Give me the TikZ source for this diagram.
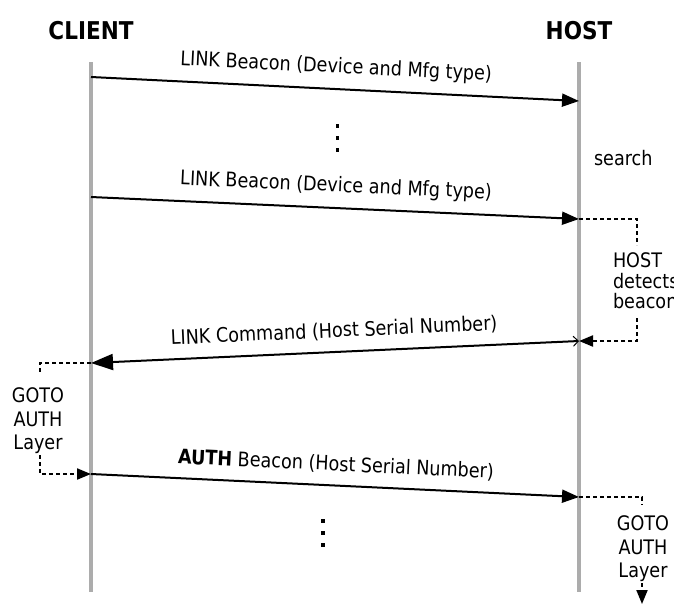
\documentclass[tikz,border=0pt]{standalone}
\usepackage{fontspec}
\setmainfont{DejaVu Sans}[FakeStretch=0.88]
\usetikzlibrary{arrows.meta}

\begin{document}
\begin{tikzpicture}[x=1pt, y=-1pt, line width=2pt, inner sep=0pt,
    font=\fontsize{20}{22}\selectfont,
    msg/.style={-{Triangle[length=17pt, width=13pt]}},
    dashmsg/.style={dash pattern=on 4pt off 3pt, -{Triangle[length=14pt, width=11pt]}},
    dashline/.style={dash pattern=on 4pt off 3pt},
    lifeline/.style={draw=gray!65, line width=4pt},
    msglabel/.style={midway, sloped, above=11pt},
    side/.style={font=\fontsize{20}{23.5}\selectfont, align=center}]
  \newcommand{\xclient}{91}
  \newcommand{\xhost}{579}
  \useasboundingbox (0,0) rectangle (674,606);

  \node[font=\bfseries\fontsize{24.5}{28}\selectfont] at (\xclient, 31) (client) {CLIENT};
  \node[font=\bfseries\fontsize{24.5}{28}\selectfont] at (\xhost, 31) (host) {HOST};

  \coordinate (ctop) at (\xclient, 62);
  \coordinate (cbot) at (\xclient, 592);
  \coordinate (htop) at (\xhost, 62);
  \coordinate (hbot) at (\xhost, 592);
  \draw[lifeline] (ctop) -- (cbot);
  \draw[lifeline] (htop) -- (hbot);

  \coordinate (c1) at (\xclient, 77);
  \coordinate (h1) at (\xhost, 101);
  \coordinate (c2) at (\xclient, 197);
  \coordinate (h2) at (\xhost, 219);
  \coordinate (h3) at (\xhost, 341);
  \coordinate (c3) at (\xclient, 363);
  \coordinate (c4) at (\xclient, 474);
  \coordinate (h4) at (\xhost, 497);

  \draw[msg] (c1) -- node[msglabel] {LINK Beacon (Device and Mfg type)} (h1);
  \foreach \y in {124,136,148}
    \fill (335.5,\y) rectangle ++(3.5,3.5);
  \node[anchor=west] at (593, 158) (search) {search};

  \draw[msg] (c2) -- node[msglabel] {LINK Beacon (Device and Mfg type)} (h2);

  % host detects beacon
  \node[anchor=north west, align=left, font=\fontsize{20}{20.5}\selectfont] at (612, 252) (detect) {HOST\\detects\\beacon};
  \coordinate (d1) at (637, 245);
  \coordinate (d2) at (637, 318);
  \draw[dashline] (h2) -| (d1);
  \draw[dashmsg] (d2) |- (h3);

  \draw[{Triangle[length=22pt, width=16pt]}-{Straight Barb[length=5pt, width=10pt, line width=1pt]}]
    (c3) -- node[msglabel] {LINK Command (Host Serial Number)} (h3);

  % client goes to AUTH
  \node[side, anchor=north] at (38, 387) (gotoc) {GOTO\\AUTH\\Layer};
  \coordinate (g1) at (40, 372);
  \coordinate (g2) at (40, 455);
  \draw[dashline] (c3) -| (g1);
  \draw[dashmsg] (g2) |- (c4);

  \draw[msg] (c4) -- node[msglabel] {{\bfseries AUTH} Beacon (Host Serial Number)} (h4);
  \foreach \y in {519,531,543}
    \fill (321,\y) rectangle ++(3.5,3.5);

  % host goes to AUTH
  \node[side, anchor=north] at (643, 515) (gotoh) {GOTO\\AUTH\\Layer};
  \coordinate (r1) at (642, 505);
  \coordinate (r2) at (642, 583);
  \coordinate (r3) at (642, 604);
  \draw[dashline] (h4) -| (r1);
  \draw[dashmsg] (r2) -- (r3);
\end{tikzpicture}
\end{document}
